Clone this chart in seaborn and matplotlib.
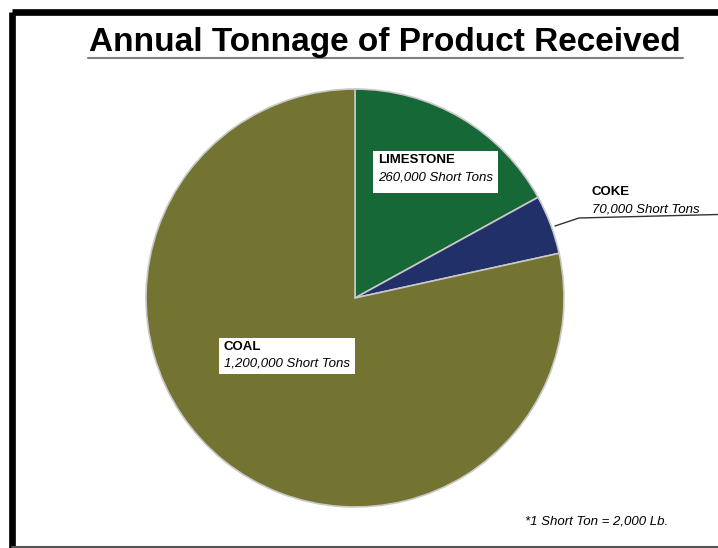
import matplotlib
matplotlib.use("Agg")
import matplotlib.pyplot as plt
import seaborn as sns

# === data ===
products = ["LIMESTONE", "COKE", "COAL"]
tons = [260000, 70000, 1200000]
ton_labels = ["260,000 Short Tons", "70,000 Short Tons", "1,200,000 Short Tons"]
colors = ["#166936", "#22306a", "#737332"]

sns.set_theme(style="white")
plt.rcParams['font.family'] = ['Liberation Sans', 'DejaVu Sans']
plt.rcParams['text.color'] = 'black'

W, H = 718, 548
fig = plt.figure(figsize=(W / 100, H / 100), dpi=100)
ax = fig.add_axes([0, 0, 1, 1])
ax.set_xlim(0, W)
ax.set_ylim(H, 0)
ax.axis("off")

# pie in its own axes, placed in pixels
cx, cy, r = 355, 298, 210
pax = fig.add_axes([(cx - r) / W, 1 - (cy + r) / H, 2 * r / W, 2 * r / H])
wedges, _ = pax.pie(tons, colors=sns.color_palette(colors), startangle=90,
                    counterclock=False,
                    wedgeprops=dict(edgecolor="#c8c8c8", linewidth=1.2))
pax.set_xlim(-1.005, 1.005)
pax.set_ylim(-1.005, 1.005)
pax.set_aspect("equal")
pax.axis("off")

# frame
ax.plot([12, 12], [H + 5, 12], color="black", lw=4.8, solid_capstyle="butt")
ax.plot([12, W + 5], [12, 12], color="black", lw=4.8, solid_capstyle="butt")
ax.plot([12, W], [546.5, 546.5], color="#555555", lw=1.5)

# title
ax.text(385, 43, "Annual Tonnage of Product Received", ha="center", va="center",
        fontsize=24, fontweight="bold")
ax.plot([88, 683], [58, 58], color="#808080", lw=1.5)

# limestone
ax.add_patch(plt.Rectangle((373, 151), 125, 42, facecolor="white", edgecolor="none", zorder=3))
ax.text(378, 154, products[0], fontsize=9.5, fontweight="bold", ha="left", va="top", zorder=4)
ax.text(378, 171, ton_labels[0], fontsize=9.5, style="italic", ha="left", va="top", zorder=4)

# coal
ax.add_patch(plt.Rectangle((219, 338), 136, 36, facecolor="white", edgecolor="none", zorder=3))
ax.text(224, 341, products[2], fontsize=9.5, fontweight="bold", ha="left", va="top", zorder=4)
ax.text(224, 357, ton_labels[2], fontsize=9.5, style="italic", ha="left", va="top", zorder=4)

# coke with leader
ax.text(592, 186, products[1], fontsize=9.5, fontweight="bold", ha="left", va="top", zorder=4)
ax.text(592, 203, ton_labels[1], fontsize=9.5, style="italic", ha="left", va="top", zorder=4)
ax.plot([555, 579, W], [226, 218, 214.5], color="#333333", lw=1, zorder=4)

# footnote
ax.text(525, 521, "*1 Short Ton = 2,000 Lb.", fontsize=9.5, style="italic",
        ha="left", va="center")

ax.set_zorder(2)
pax.set_zorder(1)
ax.patch.set_alpha(0)

fig.savefig("out.png", dpi=100)
